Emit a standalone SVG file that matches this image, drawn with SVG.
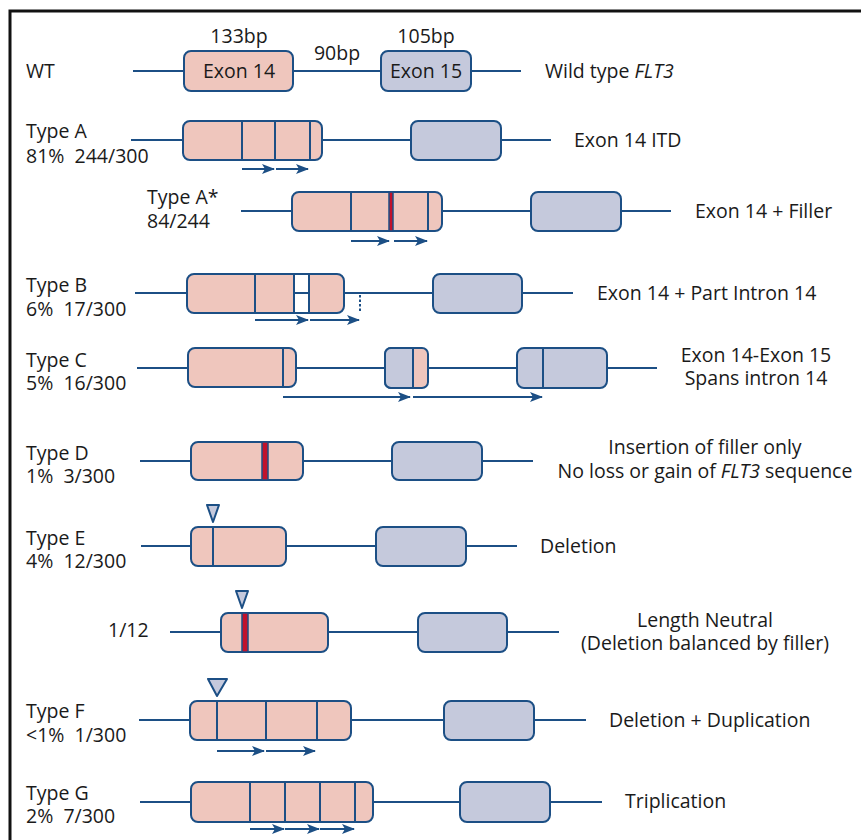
<svg xmlns="http://www.w3.org/2000/svg" width="861" height="840" viewBox="0 0 861 840">
<style>
text{font-family:"Open Sans","Liberation Sans",sans-serif;font-size:19.5px;fill:#1a1a1a;white-space:pre}
.i{font-style:italic}
.m{text-anchor:middle}
.ln{stroke:#1c4f85;stroke-width:2;fill:none}
.e14{fill:#efc6bd;stroke:#1c4f85;stroke-width:2}
.e15{fill:#c5c9dc;stroke:#1c4f85;stroke-width:2}
.div{stroke:#1c4f85;stroke-width:2}
.red{fill:#c0122c;stroke:#1c4f85;stroke-width:1.5}
.tri{fill:#c5c9dc;stroke:#1c4f85;stroke-width:2;stroke-linejoin:round}
.ar{stroke:#1c4f85;stroke-width:2;fill:none;marker-end:url(#ah)}
</style>
<defs>
<marker id="ah" viewBox="0 0 13 10" refX="12" refY="5" markerWidth="13" markerHeight="10" markerUnits="userSpaceOnUse" orient="auto">
<path d="M0,0 L13,5 L0,10 L3,5 z" fill="#1c4f85"/>
</marker>
</defs>
<rect width="861" height="840" fill="#ffffff"/>
<path d="M10,840 V11 H861" fill="none" stroke="#111" stroke-width="3"/>

<g id="wt">
<line class="ln" x1="133" y1="71" x2="521" y2="71"/>
<rect class="e14" x="184" y="51" width="109" height="40" rx="7"/>
<rect class="e15" x="381" y="51" width="90" height="40" rx="7"/>
<text x="239" y="43" class="m">133bp</text>
<text x="337" y="60" class="m">90bp</text>
<text x="426" y="43" class="m">105bp</text>
<text x="239" y="78" class="m">Exon 14</text>
<text x="426" y="78" class="m">Exon 15</text>
<text x="26" y="78">WT</text>
<text x="545" y="78">Wild type <tspan class="i">FLT3</tspan></text>
</g>

<g id="typeA">
<line class="ln" x1="131" y1="140" x2="551" y2="140"/>
<rect class="e14" x="183" y="121" width="139" height="39" rx="7"/>
<line class="div" x1="242" y1="121" x2="242" y2="160"/>
<line class="div" x1="275" y1="121" x2="275" y2="160"/>
<line class="div" x1="310" y1="121" x2="310" y2="160"/>
<rect class="e15" x="411" y="121" width="90" height="39" rx="7"/>
<text x="26" y="138">Type A</text>
<text x="26" y="163">81%  244/300</text>
<text x="574" y="147">Exon 14 ITD</text>
</g>

<g id="typeAstar">
<line class="ln" x1="241" y1="211" x2="671" y2="211"/>
<rect class="e14" x="292" y="192" width="150" height="39" rx="7"/>
<line class="div" x1="351" y1="192" x2="351" y2="231"/>
<rect class="red" x="389" y="192" width="4" height="39"/>
<line class="div" x1="428" y1="192" x2="428" y2="231"/>
<rect class="e15" x="531" y="192" width="90" height="39" rx="7"/>
<text x="147" y="204">Type A*</text>
<text x="147" y="228">84/244</text>
<text x="695" y="218">Exon 14 + Filler</text>
</g>

<g id="typeB">
<line class="ln" x1="135" y1="293" x2="573" y2="293"/>
<rect class="e14" x="187" y="274" width="157" height="39" rx="7"/>
<line class="div" x1="255" y1="274" x2="255" y2="313"/>
<rect x="294" y="274" width="15" height="39" fill="#fff" stroke="#1c4f85" stroke-width="2"/>
<line class="ln" x1="294" y1="293" x2="309" y2="293"/>
<line x1="360" y1="295" x2="360" y2="313" stroke="#1c4f85" stroke-width="2" stroke-dasharray="2.5,2"/>
<rect class="e15" x="433" y="274" width="89" height="39" rx="7"/>
<text x="26" y="292">Type B</text>
<text x="26" y="316">6%  17/300</text>
<text x="597" y="300">Exon 14 + Part Intron 14</text>
</g>

<g id="typeC">
<line class="ln" x1="137" y1="368" x2="657" y2="368"/>
<rect class="e14" x="188" y="348" width="108" height="39" rx="7"/>
<line class="div" x1="283" y1="348" x2="283" y2="387"/>
<rect class="e14" x="385" y="348" width="43" height="40" rx="6"/>
<path d="M413,348 H391 A6,6 0 0 0 385,354 V382 A6,6 0 0 0 391,388 H413 Z" class="e15"/>
<rect class="e15" x="517" y="348" width="90" height="40" rx="7"/>
<line class="div" x1="543" y1="348" x2="543" y2="388"/>
<text x="26" y="367">Type C</text>
<text x="26" y="390">5%  16/300</text>
<text x="756" y="362" class="m">Exon 14-Exon 15</text>
<text x="756" y="385" class="m">Spans intron 14</text>
</g>

<g id="typeD">
<line class="ln" x1="140" y1="461" x2="533" y2="461"/>
<rect class="e14" x="191" y="442" width="112" height="38" rx="7"/>
<rect class="red" x="262" y="442" width="6" height="38"/>
<rect class="e15" x="392" y="442" width="90" height="38" rx="7"/>
<text x="26" y="460">Type D</text>
<text x="26" y="483">1%  3/300</text>
<text x="705" y="454" class="m">Insertion of filler only</text>
<text x="705" y="478" class="m">No loss or gain of <tspan class="i">FLT3</tspan> sequence</text>
</g>

<g id="typeE">
<line class="ln" x1="141" y1="546" x2="517" y2="546"/>
<rect class="e14" x="191" y="527" width="95" height="39" rx="7"/>
<line class="div" x1="213" y1="527" x2="213" y2="566"/>
<path class="tri" d="M207,505 H219 L213,522 Z"/>
<rect class="e15" x="376" y="527" width="90" height="39" rx="7"/>
<text x="26" y="545">Type E</text>
<text x="26" y="568">4%  12/300</text>
<text x="540" y="553">Deletion</text>
</g>

<g id="lengthNeutral">
<line class="ln" x1="170" y1="632" x2="559" y2="632"/>
<rect class="e14" x="221" y="613" width="107" height="39" rx="7"/>
<rect class="red" x="242" y="613" width="6" height="39"/>
<path class="tri" d="M236,591 H248 L242,608 Z"/>
<rect class="e15" x="418" y="613" width="89" height="39" rx="7"/>
<text x="108" y="637">1/12</text>
<text x="705" y="627" class="m">Length Neutral</text>
<text x="705" y="650" class="m">(Deletion balanced by filler)</text>
</g>

<g id="typeF">
<line class="ln" x1="139" y1="720" x2="586" y2="720"/>
<rect class="e14" x="190" y="701" width="161" height="39" rx="7"/>
<line class="div" x1="217" y1="701" x2="217" y2="740"/>
<line class="div" x1="266" y1="701" x2="266" y2="740"/>
<line class="div" x1="317" y1="701" x2="317" y2="740"/>
<path class="tri" d="M208,679 H227 L217,696 Z"/>
<rect class="e15" x="444" y="701" width="90" height="39" rx="7"/>
<text x="26" y="718">Type F</text>
<text x="26" y="742">&lt;1%  1/300</text>
<text x="609" y="727">Deletion + Duplication</text>
</g>

<g id="typeG">
<line class="ln" x1="140" y1="802" x2="602" y2="802"/>
<rect class="e14" x="191" y="782" width="182" height="40" rx="7"/>
<line class="div" x1="250" y1="782" x2="250" y2="822"/>
<line class="div" x1="285" y1="782" x2="285" y2="822"/>
<line class="div" x1="320" y1="782" x2="320" y2="822"/>
<line class="div" x1="355" y1="782" x2="355" y2="822"/>
<rect class="e15" x="460" y="782" width="90" height="40" rx="7"/>
<text x="26" y="800">Type G</text>
<text x="26" y="823">2%  7/300</text>
<text x="625" y="808">Triplication</text>
</g>

<g id="connectors">
<line class="ar" x1="242" y1="169" x2="274" y2="169"/>
<line class="ar" x1="276" y1="169" x2="308" y2="169"/>
<line class="ar" x1="351" y1="241" x2="389" y2="241"/>
<line class="ar" x1="394" y1="241" x2="427" y2="241"/>
<line class="ar" x1="255" y1="320" x2="308" y2="320"/>
<line class="ar" x1="310" y1="320" x2="359" y2="320"/>
<line class="ar" x1="283" y1="397" x2="410" y2="397"/>
<line class="ar" x1="413" y1="397" x2="542" y2="397"/>
<line class="ar" x1="217" y1="751" x2="264" y2="751"/>
<line class="ar" x1="266" y1="751" x2="315" y2="751"/>
<line class="ar" x1="250" y1="829" x2="284" y2="829"/>
<line class="ar" x1="285" y1="829" x2="319" y2="829"/>
<line class="ar" x1="320" y1="829" x2="354" y2="829"/>
</g>
</svg>
